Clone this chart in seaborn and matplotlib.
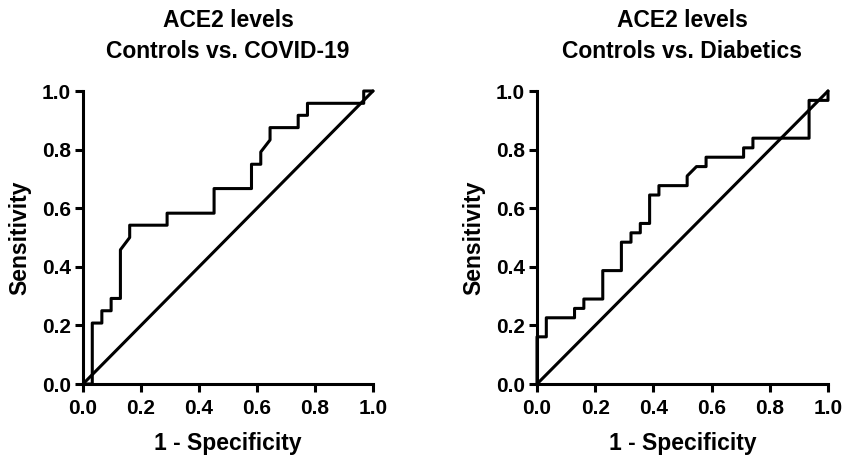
import matplotlib
matplotlib.use("Agg")
import matplotlib.pyplot as plt
import seaborn as sns
import pandas as pd

# ROC curve: Controls vs. COVID-19
left_fpr = [0, 0.032, 0.032, 0.065, 0.065, 0.097, 0.097, 0.129, 0.129, 0.161, 0.161,
            0.290, 0.290, 0.452, 0.452, 0.581, 0.581, 0.613, 0.613, 0.645, 0.645,
            0.742, 0.742, 0.774, 0.774, 0.968, 0.968, 1.0]
left_tpr = [0, 0, 0.208, 0.208, 0.250, 0.250, 0.292, 0.292, 0.458, 0.500, 0.542,
            0.542, 0.583, 0.583, 0.667, 0.667, 0.750, 0.750, 0.792, 0.833, 0.875,
            0.875, 0.917, 0.917, 0.958, 0.958, 1.0, 1.0]

# ROC curve: Controls vs. Diabetics
right_fpr = [0, 0, 0.032, 0.032, 0.129, 0.129, 0.161, 0.161, 0.226, 0.226, 0.290,
             0.290, 0.323, 0.323, 0.355, 0.355, 0.387, 0.387, 0.419, 0.419, 0.516,
             0.516, 0.548, 0.581, 0.581, 0.710, 0.710, 0.742, 0.742, 0.935, 0.935,
             1.0, 1.0]
right_tpr = [0, 0.161, 0.161, 0.226, 0.226, 0.258, 0.258, 0.290, 0.290, 0.387, 0.387,
             0.484, 0.484, 0.516, 0.516, 0.548, 0.548, 0.645, 0.645, 0.677, 0.677,
             0.710, 0.742, 0.742, 0.774, 0.774, 0.806, 0.806, 0.839, 0.839, 0.968,
             0.968, 1.0]

ref_x = [0, 1]
ref_y = [0, 1]

titles = ["ACE2 levels\nControls vs. COVID-19", "ACE2 levels\nControls vs. Diabetics"]
ticks = [0.0, 0.2, 0.4, 0.6, 0.8, 1.0]
tick_labels = ["0.0", "0.2", "0.4", "0.6", "0.8", "1.0"]
xlabel = "1 - Specificity"
ylabel = "Sensitivity"

sns.set_style("ticks")
plt.rcParams["font.family"] = ["Liberation Sans", "DejaVu Sans"]
plt.rcParams["font.weight"] = "bold"
plt.rcParams["text.color"] = "black"
plt.rcParams["axes.labelcolor"] = "black"

fig = plt.figure(figsize=(8.45, 4.58), dpi=100)
ax_l = fig.add_axes([83 / 845, 74 / 458, 290 / 845, 293 / 458])
ax_r = fig.add_axes([537 / 845, 74 / 458, 291 / 845, 293 / 458])

for ax, fpr, tpr, title in [(ax_l, left_fpr, left_tpr, titles[0]),
                            (ax_r, right_fpr, right_tpr, titles[1])]:
    df = pd.DataFrame({"fpr": fpr, "tpr": tpr})
    ref = pd.DataFrame({"x": ref_x, "y": ref_y})
    sns.lineplot(data=ref, x="x", y="y", ax=ax, color="black", linewidth=2.2,
                 sort=False, estimator=None, clip_on=False)
    sns.lineplot(data=df, x="fpr", y="tpr", ax=ax, color="black", linewidth=2.2,
                 sort=False, estimator=None, clip_on=False)
    ax.set_xlim(0, 1)
    ax.set_ylim(0, 1)
    ax.set_xticks(ticks)
    ax.set_xticklabels(tick_labels)
    ax.set_yticks(ticks)
    ax.set_yticklabels(tick_labels)
    for s in ["top", "right"]:
        ax.spines[s].set_visible(False)
    for s in ["left", "bottom"]:
        ax.spines[s].set_linewidth(2.2)
        ax.spines[s].set_color("black")
    ax.tick_params(axis="both", which="major", length=6, width=2.2, color="black",
                   labelsize=15, labelcolor="black")
    ax.tick_params(axis="x", pad=5)
    ax.tick_params(axis="y", pad=2.5)
    for lab in ax.get_xticklabels() + ax.get_yticklabels():
        lab.set_fontweight("bold")
    ax.set_xlabel(xlabel, fontsize=16.5, fontweight="bold", labelpad=10, color="black")
    ax.set_ylabel(ylabel, fontsize=16.5, fontweight="bold", labelpad=8, color="black")
    ax.set_title(title, fontsize=16.5, fontweight="bold", pad=24, linespacing=1.45,
                 color="black")

fig.savefig("out.png", dpi=100)
